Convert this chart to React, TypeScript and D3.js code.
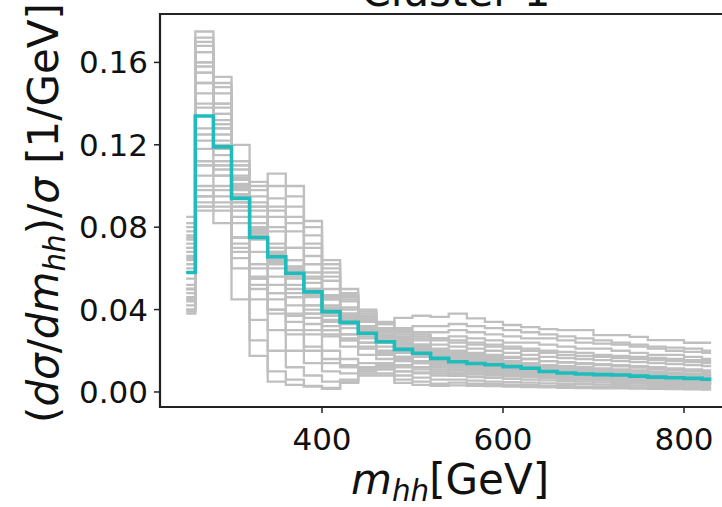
import React from "react";
import * as d3 from "d3";

const massCenters = [250, 270, 290, 310, 330, 350, 370, 390, 410, 430, 450, 470, 490, 510, 530, 550, 570, 590, 610, 630, 650, 670, 690, 710, 730, 750, 770, 790, 810, 830];

const clusterBenchmark = [0.058, 0.134, 0.119, 0.094, 0.075, 0.0656, 0.0576, 0.0486, 0.039, 0.0338, 0.0285, 0.0244, 0.0207, 0.0188, 0.0163, 0.0147, 0.0138, 0.0132, 0.0123, 0.0115, 0.0099, 0.0092, 0.0087, 0.0084, 0.0082, 0.0077, 0.0072, 0.0069, 0.0066, 0.0062];

const memberA1 = [0.062, 0.140, 0.122, 0.096, 0.078, 0.066, 0.058, 0.049, 0.040, 0.034, 0.029, 0.025, 0.021, 0.019, 0.017, 0.015, 0.014, 0.013, 0.012, 0.011, 0.010, 0.0095, 0.009, 0.0085, 0.008, 0.0078, 0.0073, 0.007, 0.0066, 0.0063];
const memberA2 = [0.055, 0.128, 0.115, 0.092, 0.074, 0.066, 0.059, 0.050, 0.042, 0.036, 0.030, 0.026, 0.022, 0.020, 0.018, 0.016, 0.015, 0.014, 0.013, 0.012, 0.011, 0.010, 0.0095, 0.009, 0.0086, 0.008, 0.0076, 0.0072, 0.0068, 0.0064];
const memberA3 = [0.068, 0.150, 0.128, 0.099, 0.080, 0.068, 0.056, 0.046, 0.037, 0.031, 0.026, 0.022, 0.019, 0.017, 0.015, 0.013, 0.012, 0.011, 0.010, 0.0095, 0.0088, 0.0082, 0.0077, 0.0072, 0.0068, 0.0063, 0.006, 0.0056, 0.0053, 0.005];
const memberA4 = [0.048, 0.118, 0.110, 0.090, 0.076, 0.068, 0.061, 0.053, 0.045, 0.038, 0.032, 0.027, 0.024, 0.021, 0.019, 0.017, 0.016, 0.015, 0.014, 0.013, 0.012, 0.011, 0.0105, 0.010, 0.0095, 0.009, 0.0085, 0.008, 0.0076, 0.0072];
const memberA5 = [0.072, 0.160, 0.135, 0.100, 0.079, 0.064, 0.052, 0.042, 0.034, 0.028, 0.024, 0.020, 0.017, 0.015, 0.013, 0.012, 0.011, 0.010, 0.009, 0.0085, 0.008, 0.0074, 0.007, 0.0065, 0.006, 0.0057, 0.0053, 0.005, 0.0047, 0.0044];
const memberA6 = [0.044, 0.110, 0.105, 0.090, 0.078, 0.070, 0.064, 0.056, 0.047, 0.040, 0.034, 0.029, 0.025, 0.022, 0.020, 0.018, 0.017, 0.016, 0.015, 0.014, 0.013, 0.012, 0.0115, 0.011, 0.0105, 0.010, 0.0095, 0.009, 0.0085, 0.008];
const memberA7 = [0.078, 0.165, 0.140, 0.103, 0.078, 0.060, 0.048, 0.038, 0.030, 0.025, 0.021, 0.018, 0.016, 0.014, 0.012, 0.011, 0.010, 0.0092, 0.0085, 0.008, 0.0074, 0.007, 0.0065, 0.006, 0.0056, 0.0052, 0.0049, 0.0046, 0.0043, 0.004];
const memberA8 = [0.060, 0.138, 0.125, 0.098, 0.077, 0.063, 0.055, 0.047, 0.040, 0.035, 0.031, 0.027, 0.023, 0.021, 0.019, 0.0175, 0.016, 0.015, 0.014, 0.013, 0.012, 0.0113, 0.0106, 0.010, 0.0095, 0.009, 0.0085, 0.008, 0.0075, 0.007];
const memberA9 = [0.052, 0.125, 0.118, 0.095, 0.079, 0.070, 0.060, 0.050, 0.041, 0.035, 0.029, 0.024, 0.020, 0.018, 0.016, 0.014, 0.013, 0.012, 0.011, 0.010, 0.0092, 0.0086, 0.008, 0.0075, 0.0071, 0.0067, 0.0063, 0.006, 0.0057, 0.0054];
const memberA10 = [0.065, 0.145, 0.130, 0.101, 0.082, 0.067, 0.057, 0.048, 0.039, 0.033, 0.028, 0.024, 0.021, 0.019, 0.017, 0.0155, 0.0145, 0.0135, 0.0125, 0.0115, 0.0105, 0.0098, 0.0092, 0.0087, 0.0083, 0.0079, 0.0075, 0.0071, 0.0067, 0.0063];
const memberB1 = [0.040, 0.090, 0.095, 0.100, 0.100, 0.106, 0.100, 0.083, 0.064, 0.050, 0.040, 0.034, 0.030, 0.028, 0.026, 0.025, 0.024, 0.023, 0.022, 0.021, 0.020, 0.0195, 0.019, 0.018, 0.0175, 0.017, 0.0165, 0.016, 0.0155, 0.015];
const memberB2 = [0.045, 0.100, 0.105, 0.108, 0.095, 0.094, 0.090, 0.076, 0.060, 0.047, 0.037, 0.031, 0.027, 0.025, 0.023, 0.022, 0.021, 0.020, 0.019, 0.018, 0.017, 0.0165, 0.016, 0.0155, 0.015, 0.0145, 0.014, 0.0135, 0.013, 0.0125];
const memberB3 = [0.050, 0.110, 0.110, 0.120, 0.102, 0.090, 0.082, 0.070, 0.056, 0.045, 0.036, 0.030, 0.025, 0.022, 0.020, 0.019, 0.018, 0.017, 0.0165, 0.016, 0.015, 0.0145, 0.014, 0.0135, 0.013, 0.0125, 0.012, 0.0115, 0.011, 0.0105];
const memberB4 = [0.042, 0.095, 0.100, 0.104, 0.098, 0.100, 0.095, 0.080, 0.062, 0.048, 0.038, 0.031, 0.026, 0.023, 0.020, 0.018, 0.017, 0.016, 0.015, 0.014, 0.013, 0.012, 0.0115, 0.011, 0.0105, 0.010, 0.0095, 0.0091, 0.0087, 0.0083];
const memberC1 = [0.040, 0.090, 0.088, 0.075, 0.060, 0.052, 0.046, 0.042, 0.038, 0.036, 0.035, 0.033, 0.036, 0.037, 0.0365, 0.038, 0.0357, 0.034, 0.0325, 0.0315, 0.0305, 0.030, 0.030, 0.0276, 0.0276, 0.0267, 0.0252, 0.0252, 0.0239, 0.0239];
const memberC2 = [0.038, 0.088, 0.082, 0.070, 0.056, 0.048, 0.042, 0.038, 0.035, 0.033, 0.031, 0.030, 0.031, 0.032, 0.032, 0.033, 0.032, 0.031, 0.030, 0.029, 0.028, 0.027, 0.026, 0.025, 0.024, 0.023, 0.022, 0.0215, 0.021, 0.020];
const memberC3 = [0.045, 0.092, 0.090, 0.072, 0.055, 0.045, 0.038, 0.033, 0.030, 0.028, 0.027, 0.027, 0.028, 0.029, 0.029, 0.030, 0.029, 0.028, 0.027, 0.026, 0.026, 0.025, 0.024, 0.0235, 0.023, 0.022, 0.021, 0.020, 0.0195, 0.019];
const memberC4 = [0.050, 0.098, 0.092, 0.068, 0.050, 0.040, 0.034, 0.030, 0.027, 0.025, 0.024, 0.024, 0.025, 0.026, 0.026, 0.027, 0.026, 0.025, 0.024, 0.024, 0.023, 0.022, 0.021, 0.021, 0.020, 0.019, 0.018, 0.018, 0.017, 0.016];
const memberD1 = [0.085, 0.175, 0.153, 0.060, 0.0175, 0.005, 0.0034, 0.0026, 0.0015, 0.0044, 0.008, 0.008, 0.0044, 0.0034, 0.003, 0.0032, 0.003, 0.0028, 0.0026, 0.0024, 0.0022, 0.002, 0.0019, 0.0018, 0.0017, 0.0016, 0.0015, 0.0014, 0.0013, 0.0012];
const memberD2 = [0.080, 0.170, 0.148, 0.045, 0.025, 0.010, 0.006, 0.003, 0.002, 0.005, 0.009, 0.009, 0.006, 0.005, 0.004, 0.0045, 0.004, 0.0038, 0.0035, 0.0033, 0.003, 0.0028, 0.0026, 0.0025, 0.0023, 0.0022, 0.002, 0.0019, 0.0018, 0.0017];
const memberD3 = [0.075, 0.165, 0.140, 0.065, 0.035, 0.020, 0.012, 0.008, 0.005, 0.006, 0.010, 0.011, 0.008, 0.007, 0.006, 0.006, 0.0055, 0.005, 0.0048, 0.0045, 0.0042, 0.004, 0.0038, 0.0036, 0.0034, 0.0032, 0.003, 0.0029, 0.0027, 0.0026];
const memberD4 = [0.070, 0.160, 0.135, 0.075, 0.045, 0.030, 0.020, 0.014, 0.010, 0.009, 0.011, 0.012, 0.010, 0.009, 0.008, 0.0078, 0.0072, 0.0068, 0.0064, 0.006, 0.0056, 0.0053, 0.005, 0.0047, 0.0044, 0.0042, 0.004, 0.0038, 0.0036, 0.0034];
const memberD5 = [0.066, 0.155, 0.130, 0.085, 0.055, 0.040, 0.030, 0.022, 0.016, 0.013, 0.012, 0.013, 0.012, 0.011, 0.010, 0.0095, 0.009, 0.0085, 0.008, 0.0075, 0.007, 0.0066, 0.0062, 0.0058, 0.0055, 0.0052, 0.0049, 0.0046, 0.0044, 0.0042];
const memberD6 = [0.064, 0.150, 0.128, 0.088, 0.062, 0.048, 0.037, 0.028, 0.020, 0.016, 0.014, 0.014, 0.013, 0.012, 0.011, 0.0105, 0.010, 0.0095, 0.009, 0.0085, 0.008, 0.0075, 0.007, 0.0066, 0.0062, 0.0058, 0.0055, 0.0052, 0.0049, 0.0046];
const memberE1 = [0.076, 0.172, 0.150, 0.110, 0.090, 0.080, 0.070, 0.058, 0.046, 0.038, 0.032, 0.027, 0.023, 0.021, 0.019, 0.0175, 0.016, 0.015, 0.014, 0.013, 0.012, 0.0112, 0.0105, 0.0098, 0.0092, 0.0086, 0.008, 0.0075, 0.007, 0.0066];
const memberE2 = [0.046, 0.105, 0.112, 0.112, 0.088, 0.085, 0.078, 0.066, 0.054, 0.044, 0.036, 0.030, 0.026, 0.023, 0.021, 0.020, 0.019, 0.018, 0.017, 0.016, 0.015, 0.0142, 0.0135, 0.013, 0.0124, 0.0118, 0.0112, 0.0107, 0.0102, 0.0097];
const memberE3 = [0.058, 0.122, 0.120, 0.105, 0.085, 0.072, 0.064, 0.055, 0.045, 0.037, 0.031, 0.026, 0.022, 0.020, 0.018, 0.016, 0.015, 0.014, 0.013, 0.012, 0.011, 0.0104, 0.0098, 0.0093, 0.0089, 0.0084, 0.008, 0.0076, 0.0072, 0.0068];
const memberE4 = [0.074, 0.168, 0.145, 0.082, 0.052, 0.038, 0.028, 0.020, 0.014, 0.012, 0.011, 0.011, 0.010, 0.0095, 0.009, 0.0088, 0.0084, 0.008, 0.0076, 0.0072, 0.0068, 0.0064, 0.006, 0.0057, 0.0054, 0.0051, 0.0048, 0.0046, 0.0043, 0.004];
const memberE5 = [0.082, 0.158, 0.132, 0.092, 0.068, 0.056, 0.046, 0.036, 0.028, 0.022, 0.018, 0.016, 0.015, 0.014, 0.013, 0.012, 0.0115, 0.011, 0.0105, 0.010, 0.0094, 0.0088, 0.0083, 0.0078, 0.0074, 0.007, 0.0066, 0.0062, 0.0059, 0.0056];
const memberE6 = [0.039, 0.095, 0.098, 0.095, 0.090, 0.088, 0.085, 0.072, 0.058, 0.046, 0.039, 0.033, 0.029, 0.027, 0.025, 0.024, 0.023, 0.022, 0.021, 0.020, 0.019, 0.018, 0.0175, 0.017, 0.0165, 0.016, 0.0155, 0.015, 0.0145, 0.014];
const memberE7 = [0.070, 0.155, 0.138, 0.110, 0.085, 0.062, 0.050, 0.040, 0.032, 0.026, 0.022, 0.019, 0.017, 0.015, 0.014, 0.013, 0.012, 0.011, 0.010, 0.0095, 0.009, 0.0085, 0.008, 0.0076, 0.0072, 0.0068, 0.0064, 0.0061, 0.0058, 0.0055];
const memberE8 = [0.050, 0.112, 0.108, 0.100, 0.092, 0.078, 0.070, 0.062, 0.050, 0.041, 0.034, 0.028, 0.024, 0.022, 0.020, 0.018, 0.017, 0.016, 0.015, 0.014, 0.013, 0.0125, 0.012, 0.0115, 0.011, 0.0105, 0.010, 0.0095, 0.009, 0.0086];

const memberSeries = [memberA1, memberA2, memberA3, memberA4, memberA5, memberA6, memberA7, memberA8, memberA9, memberA10, memberB1, memberB2, memberB3, memberB4, memberC1, memberC2, memberC3, memberC4, memberD1, memberD2, memberD3, memberD4, memberD5, memberD6, memberE1, memberE2, memberE3, memberE4, memberE5, memberE6, memberE7, memberE8];

const xTicks = [400, 600, 800];
const yTicks = [0, 0.04, 0.08, 0.12, 0.16];

const W = 722;
const H = 507;
const left = 160;
const right = 737.4;
const top = 14;
const bottom = 407;

export default function App() {
  const x = d3.scaleLinear().domain([221, 859]).range([left, right]);
  const y = d3.scaleLinear().domain([-0.0073, 0.1835]).range([bottom, top]);
  const line = d3
    .line<number>()
    .x((_, i) => x(massCenters[i]))
    .y((d) => y(d))
    .curve(d3.curveStep);

  const font = "DejaVu Sans, sans-serif";
  const tickFs = 31;
  const labelFs = 42;

  return (
    <svg
      width={W}
      height={H}
      style={{ position: "fixed", left: 0, top: 0, background: "#fff" }}
      fontFamily={font}
    >
      <rect x={0} y={0} width={W} height={H} fill="#fff" />
      <g>
        {memberSeries.map((s, i) => (
          <path key={i} d={line(s) || ""} fill="none" stroke="#bfbfbf" strokeWidth={2.3} />
        ))}
        <path d={line(clusterBenchmark) || ""} fill="none" stroke="#1fbcbc" strokeWidth={3.6} />
      </g>
      {/* spines */}
      <path
        d={`M${right},${top}H${left}V${bottom}H${right}`}
        fill="none"
        stroke="#222"
        strokeWidth={2.2}
      />
      <line x1={right} x2={right} y1={top} y2={bottom} stroke="#222" strokeWidth={2.2} />
      {/* y ticks */}
      {yTicks.map((t) => (
        <g key={t}>
          <line x1={left - 6} x2={left} y1={y(t)} y2={y(t)} stroke="#222" strokeWidth={1.5} />
          <text
            x={left - 12}
            y={y(t)}
            textAnchor="end"
            dominantBaseline="central"
            fontSize={tickFs}
            fill="#111"
          >
            {t.toFixed(2)}
          </text>
        </g>
      ))}
      {/* x ticks */}
      {xTicks.map((t) => (
        <g key={t}>
          <line x1={x(t)} x2={x(t)} y1={bottom} y2={bottom + 6} stroke="#222" strokeWidth={1.5} />
          <text x={x(t)} y={bottom + 43} textAnchor="middle" fontSize={tickFs} fill="#111">
            {t}
          </text>
        </g>
      ))}
      {/* x label */}
      <text x={450} y={494} textAnchor="middle" fontSize={labelFs} fill="#111">
        <tspan fontStyle="italic">m</tspan>
        <tspan fontStyle="italic" fontSize={labelFs * 0.7} dy={7}>hh</tspan>
        <tspan dy={-7}>[GeV]</tspan>
      </text>
      {/* y label */}
      <text
        transform={`translate(58, ${213}) rotate(-90)`}
        textAnchor="middle"
        fontSize={labelFs}
        fill="#111"
      >
        <tspan>(</tspan>
        <tspan fontStyle="italic">dσ</tspan>
        <tspan>/</tspan>
        <tspan fontStyle="italic">dm</tspan>
        <tspan fontStyle="italic" fontSize={labelFs * 0.7} dy={7}>hh</tspan>
        <tspan dy={-7}>)/</tspan>
        <tspan fontStyle="italic">σ</tspan>
        <tspan> [1/GeV]</tspan>
      </text>
      {/* title (cropped at the top, as in the reference) */}
      <text x={456} y={6} textAnchor="middle" fontSize={42} fill="#111">
        Cluster 1
      </text>
    </svg>
  );
}
